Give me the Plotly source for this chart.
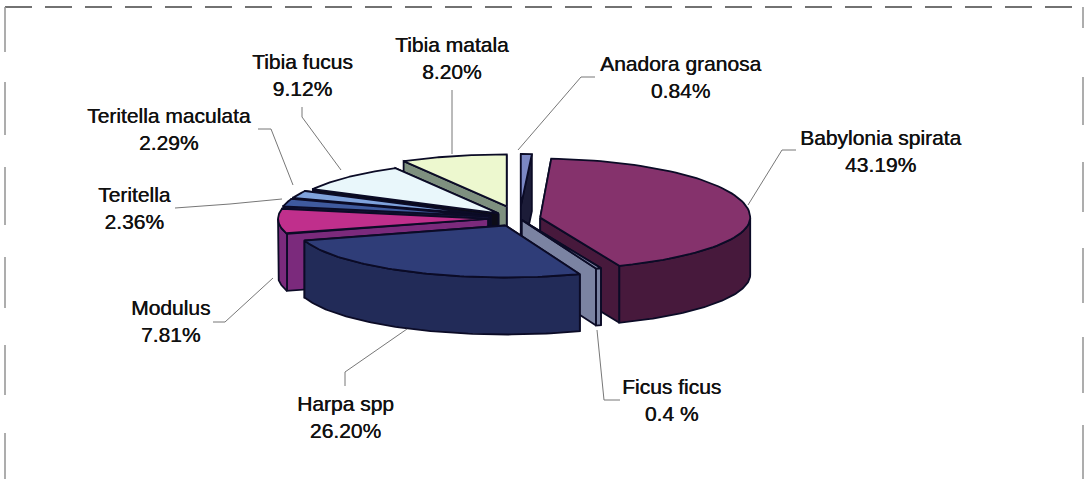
import numpy as np
import plotly.graph_objects as go

# Data
species = ["Anadora granosa", "Babylonia spirata", "Ficus ficus", "Harpa spp", "Modulus",
           "Teritella", "Teritella maculata", "Tibia fucus", "Tibia matala"]
percent = [0.84, 43.19, 0.4, 26.20, 7.81, 2.36, 2.29, 9.12, 8.20]
percent_text = ["0.84%", "43.19%", "0.4 %", "26.20%", "7.81%", "2.36%", "2.29%", "9.12%", "8.20%"]

# Styling / layout
explode = [0.24, 0.10, 0.03, 0.15, 0.15, 0.15, 0.15, 0.14, 0.24]
back_ry = [52, 59, 52, 52, 52, 52, 52, 52, 52]
top_col = ["#7b87c4", "#85326c", "#8c94b5", "#2f3d78", "#c02f8c", "#3f5a9e", "#7fa2dc", "#e9f7fb", "#edf8cf"]
side_col = ["#1c1c38", "#47193c", "#7b83a2", "#222b58", "#7b2a7c", "#1a1a40", "#20305a", "#0c0c18", "#7e907f"]
draw_order = [8, 0, 7, 6, 5, 4, 1, 2, 3]
label_xy = [(680, 76.5), (880, 150.5), (671, 399.5), (345, 416.5), (170, 320.5), (134, 208), (169, 129),
            (302, 75), (452, 57.5)]
leaders = [[(595, 77), (581, 77), (518, 150)],
           [(796, 150), (782, 150), (748, 205)],
           [(620, 400), (604, 400), (597, 330)],
           [(345, 386), (345, 372), (407, 329)],
           [(213, 322), (225, 322), (273, 278)],
           [(175, 208), (230, 204), (282, 199)],
           [(258, 129), (271, 129), (293, 185)],
           [(302, 107), (302, 117), (341, 170)],
           [(452, 90), (452, 120), (452, 154)]]
left_segments = [(7, 52), (82, 135), (167, 225), (257, 308), (345, 395), (433, 479)]
right_segments = [(7, 28), (77, 125), (162, 212), (248, 303), (337, 393), (425, 479)]
CX, CY, RX, RY, DEPTH = 519.5, 218.5, 210, 52, 57
OUT = "#0b0b26"

fig = go.Figure()


def poly(xs, ys, fill, name, lw=1.8):
    fig.add_trace(go.Scatter(x=list(xs) + [xs[0]], y=list(ys) + [ys[0]], mode="lines", fill="toself",
                             fillcolor=fill, line=dict(color=OUT, width=lw), name=name,
                             hoverinfo="name", showlegend=False))


total = sum(percent)
cum = np.concatenate([[0], np.cumsum(percent)]) / total * 2 * np.pi
for i in draw_order:
    a0, a1 = cum[i], cum[i + 1]
    mid = (a0 + a1) / 2
    ax = CX + explode[i] * RX * np.sin(mid)
    ay = CY - explode[i] * RY * np.cos(mid)


    def rim(t):
        c = np.cos(t)
        return ax + RX * np.sin(t), ay - np.where(c > 0, back_ry[i], RY) * c


    t = np.linspace(a0, a1, 80)
    rimx, rimy = rim(t)
    # radial walls, farther one first
    ends = sorted([(rimy[0], rimx[0]), (rimy[-1], rimx[-1])])
    for ye, xe in ends:
        poly([ax, xe, xe, ax], [ay, ye, ye + DEPTH, ay + DEPTH], side_col[i], species[i])
    # outer wall (front half only)
    lo, hi = max(a0, np.pi / 2), min(a1, 3 * np.pi / 2)
    if hi > lo:
        wx, wy = rim(np.linspace(lo, hi, 80))
        poly(np.r_[wx, wx[::-1]], np.r_[wy, wy[::-1] + DEPTH], side_col[i], species[i])
    # top
    poly(np.r_[ax, rimx], np.r_[ay, rimy], top_col[i], species[i])

# leader lines
for pts in leaders:
    fig.add_trace(go.Scatter(x=[p[0] for p in pts], y=[p[1] for p in pts], mode="lines",
                             line=dict(color="#777777", width=1), hoverinfo="skip", showlegend=False))

# labels
annos = []
for n, p, (x, y) in zip(species, percent_text, label_xy):
    annos.append(dict(x=x, y=y, xref="x", yref="y", text=f"{n}<br>{p}", showarrow=False, align="center",
                      font=dict(family="Liberation Sans", size=21, color="#111111",
                                shadow="0.4px 0 0 #111111")))

# broken scan frame
shapes = [dict(type="line", xref="x", yref="y", x0=5, y0=7, x1=1083, y1=7,
               line=dict(color="#444444", width=1.3, dash="27px,13px"))]
for x, segs in ((5, left_segments), (1083, right_segments)):
    for y0, y1 in segs:
        shapes.append(dict(type="line", xref="x", yref="y", x0=x, y0=y0, x1=x, y1=y1,
                           line=dict(color="#999999", width=1.6)))

fig.update_layout(width=1084, height=479, margin=dict(l=0, r=0, t=0, b=0), paper_bgcolor="white",
                  plot_bgcolor="white", annotations=annos, shapes=shapes,
                  xaxis=dict(range=[0, 1084], visible=False, fixedrange=True),
                  yaxis=dict(range=[479, 0], visible=False, fixedrange=True))
fig.write_html("out.html", config=dict(displayModeBar=False),
               post_script="document.body.style.margin='0';document.body.style.overflow='hidden';")
